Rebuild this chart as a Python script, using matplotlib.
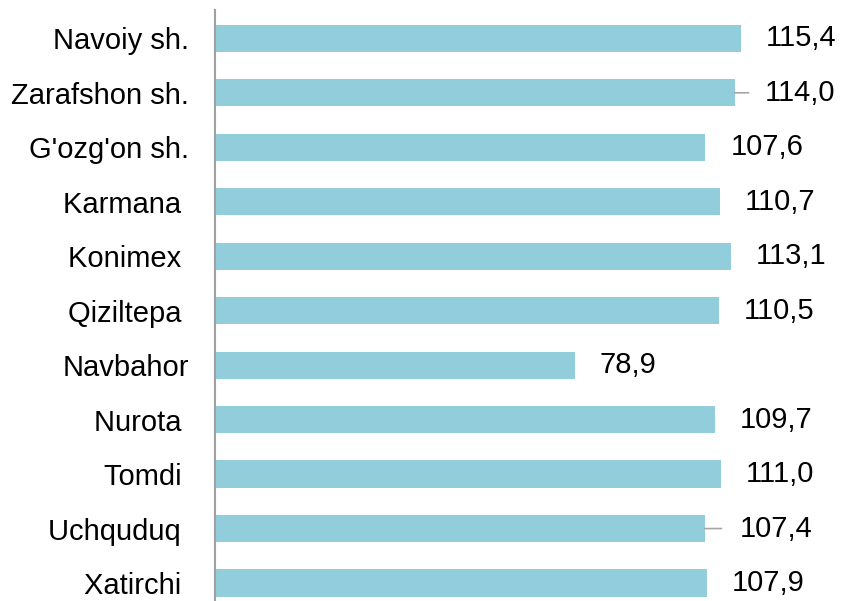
import matplotlib.pyplot as plt

# données
tumanlar = ["Navoiy sh.", "Zarafshon sh.", "G'ozg'on sh.", "Karmana ", "Konimex ",
            "Qiziltepa ", "Navbahor", "Nurota ", "Tomdi ", "Uchquduq ", "Xatirchi "]
qiymatlar = [115.4, 114.0, 107.6, 110.7, 113.1, 110.5, 78.9, 109.7, 111.0, 107.4, 107.9]

# décalage des étiquettes (px) ; leader = ligne de rappel
decalage = [25, 30, 25, 25, 25, 25, 25, 25, 25, 35, 25]
leader = [0, 14, 0, 0, 0, 0, 0, 0, 0, 17, 0]

plt.rcParams['font.family'] = ['Liberation Sans', 'DejaVu Sans']

fig = plt.figure(figsize=(8.43, 6.01), dpi=100)
ax = fig.add_axes([215 / 843, 0, 585 / 843, 591 / 601])

y = list(range(len(tumanlar)))
ax.barh(y, qiymatlar, height=0.5, color='#92CDDC')

ax.set_xlim(0, 585 / 4.558)
ax.set_ylim(10.33, -0.52)
ax.set_yticks(y)
ax.set_yticklabels(tumanlar, fontsize=21)
ax.tick_params(axis='y', length=0, pad=18.5)
ax.set_xticks([])

for s in ['top', 'right', 'bottom']:
    ax.spines[s].set_visible(False)
ax.spines['left'].set_color('#A0A0A0')
ax.spines['left'].set_linewidth(1.5)

px = 72 / 100  # pixels -> points
for i, v in enumerate(qiymatlar):
    ax.annotate(f"{v:.1f}".replace('.', ','), (v, i),
                xytext=(decalage[i] * px, 0), textcoords='offset points',
                ha='left', va='center', fontsize=21)
    if leader[i]:
        ax.annotate('', (v, i), xytext=(leader[i] * px, 0), textcoords='offset points',
                    arrowprops=dict(arrowstyle='-', color='#A6A6A6', lw=1.2,
                                    shrinkA=0, shrinkB=0))

plt.savefig('out.png', dpi=100)
